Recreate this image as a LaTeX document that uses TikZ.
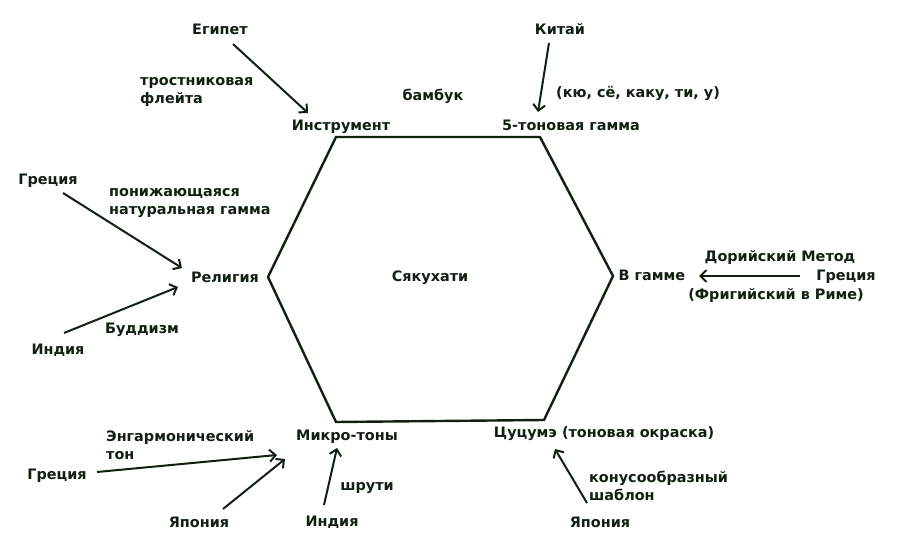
\documentclass[tikz,border=0pt]{standalone}
\usepackage{fontspec}
\setmainfont{DejaVu Sans}
\usetikzlibrary{arrows.meta,calc}
\definecolor{ink}{RGB}{18,32,18}

\begin{document}
\begin{tikzpicture}[x=1pt,y=-1pt,
    lbl/.style={text=ink,font=\fontsize{14.4}{17.5}\selectfont\bfseries,inner sep=0pt,anchor=base},
    note/.style={lbl,align=left,anchor=west},
    arr/.style={draw=ink,line width=2pt,-{Straight Barb[length=6pt,width=12pt]}},
    hexa/.style={draw=ink,line width=2.4pt,line join=miter}]
  \useasboundingbox[fill=white] (0,0) rectangle (900,553);

  % hexagon
  \coordinate (h1) at (336,137);
  \coordinate (h2) at (540,137);
  \coordinate (h3) at (613,276);
  \coordinate (h4) at (544,420);
  \coordinate (h5) at (336,422);
  \coordinate (h6) at (268,277);
  \draw[hexa] (h1) -- (h2) -- (h3) -- (h4) -- (h5) -- (h6) -- cycle;
  \node[lbl] (shaku) at (430,282) {Сякухати};

  % corners
  \node[lbl] (instr) at (341,131) {Инструмент};
  \node[lbl] (penta) at (571,131) {5-тоновая гамма};
  \node[lbl] (scale) at (652,281) {В гамме};
  \node[lbl] (tsu) at (604,437) {Цуцумэ (тоновая окраска)};
  \node[lbl] (micro) at (347,440) {Микро-тоны};
  \node[lbl] (relig) at (225,283) {Религия};

  % sources and notes
  \node[lbl] (egypt) at (220,35) {Египет};
  \node[note] (flute) at (140,92) {тростниковая\\флейта};
  \node[lbl] (bamboo) at (433,101) {бамбук};
  \node[lbl] (china) at (560,35) {Китай};
  \node[lbl] (names) at (638,98) {(кю, сё, каку, ти, у)};

  \node[lbl] (greeceA) at (48,185) {Греция};
  \node[note] (descend) at (109,203) {понижающаяся\\натуральная гамма};
  \node[lbl] (indiaA) at (58,355) {Индия};
  \node[lbl] (buddh) at (142,334) {Буддизм};

  \node[lbl] (dorian) at (780,262) {Дорийский Метод};
  \node[lbl] (greeceB) at (846,281) {Греция};
  \node[lbl] (phryg) at (776,300) {(Фригийский в Риме)};

  \node[note] (enharm) at (106,445) {Энгармонический\\тон};
  \node[lbl] (greeceC) at (57,479) {Греция};
  \node[lbl] (japanA) at (199,527) {Япония};
  \node[lbl] (indiaB) at (332,526) {Индия};
  \node[lbl] (shruti) at (367,490) {шрути};

  \node[note] (cone) at (589,486) {конусообразный\\шаблон};
  \node[lbl] (japanB) at (600,527) {Япония};

  % arrows
  \coordinate (e1) at (233,44);   \coordinate (e2) at (308,113);
  \coordinate (c1) at (549,43);   \coordinate (c2) at (538,112);
  \coordinate (g1) at (63,193);   \coordinate (g2) at (182,268);
  \coordinate (i1) at (64,333);   \coordinate (i2) at (178,287);
  \coordinate (d1) at (800,276);  \coordinate (d2) at (699,276);
  \coordinate (m1) at (97,472);   \coordinate (m2) at (277,455);
  \coordinate (j1) at (223,509);  \coordinate (j2) at (285,459);
  \coordinate (s1) at (324,505);  \coordinate (s2) at (337,448);
  \coordinate (t1) at (587,503);  \coordinate (t2) at (555,449);
  \foreach \a/\b in {e1/e2,c1/c2,g1/g2,i1/i2,d1/d2,m1/m2,j1/j2,s1/s2,t1/t2}
    \draw[arr] (\a) -- (\b);
\end{tikzpicture}
\end{document}
